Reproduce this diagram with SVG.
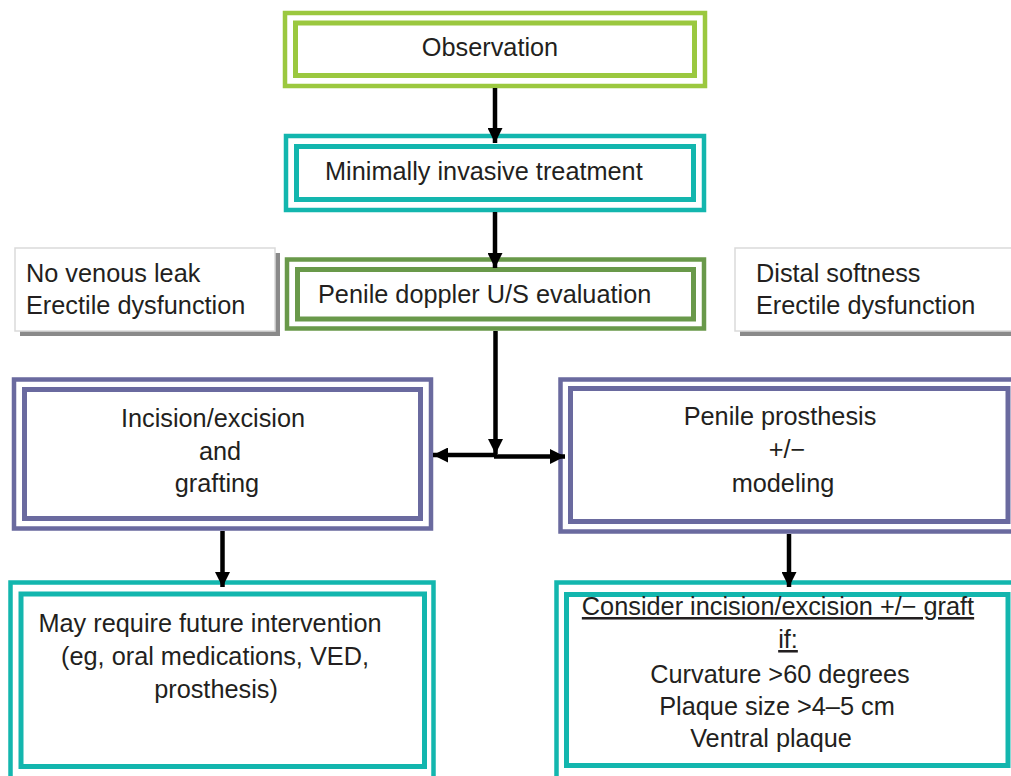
<svg xmlns="http://www.w3.org/2000/svg" width="1011" height="776" viewBox="0 0 1011 776">
<defs>
<style>
.t{font-family:"Liberation Sans",Arial,sans-serif;font-size:25.3px;fill:#231F20}
.c{text-anchor:middle}
.fr{fill:#fff}
.g1{stroke:#9BC83F;fill:none}
.tl{stroke:#13B6AE;fill:none}
.g2{stroke:#69994A;fill:none}
.sl{stroke:#6A6A9F;fill:none}
.o{stroke-width:4.5}
.i{stroke-width:5}
.ln{stroke:#000;stroke-width:4.5;fill:none}
.note{fill:#fff;stroke:#DADADA;stroke-width:1.5}
.sh{fill:#8A8A8A}
</style>
<marker id="ah" viewBox="0 0 10 10" refX="10" refY="5" markerWidth="15" markerHeight="15" markerUnits="userSpaceOnUse" orient="auto">
<path d="M0,0 L10,5 L0,10 z" fill="#000"/>
</marker>
</defs>
<rect width="1011" height="776" fill="#fff"/>

<g id="observation">
<rect class="fr" x="285" y="13" width="420" height="73"/>
<rect class="g1 o" x="285" y="13" width="420" height="73"/>
<rect class="g1 i" x="295.5" y="23" width="399" height="52.5"/>
<text class="t c" x="490" y="56">Observation</text>
</g>

<g id="minimally-invasive">
<rect class="tl o" x="286" y="136" width="418" height="74"/>
<rect class="tl i" x="296.5" y="146.5" width="397" height="53"/>
<text class="t" x="325" y="180">Minimally invasive treatment</text>
</g>

<g id="note-left">
<rect class="sh" x="20" y="253" width="260" height="83"/>
<rect class="note" x="15" y="248" width="260" height="83"/>
<text class="t" x="26" y="282">No venous leak</text>
<text class="t" x="26" y="314">Erectile dysfunction</text>
</g>

<g id="doppler">
<rect class="g2 o" x="287" y="259.5" width="417" height="69"/>
<rect class="g2 i" x="297.5" y="269.5" width="396" height="49.5"/>
<text class="t" x="318" y="303">Penile doppler U/S evaluation</text>
</g>

<g id="note-right">
<rect class="sh" x="740" y="253" width="280" height="83"/>
<rect class="note" x="735" y="248" width="285" height="83"/>
<text class="t" x="756" y="282">Distal softness</text>
<text class="t" x="756" y="314">Erectile dysfunction</text>
</g>

<g id="incision-grafting">
<rect class="sl o" x="14" y="379.5" width="417" height="149"/>
<rect class="sl i" x="24.5" y="389.5" width="396" height="129"/>
<text class="t c" x="213" y="427">Incision/excision</text>
<text class="t c" x="220" y="460">and</text>
<text class="t c" x="217" y="492">grafting</text>
</g>

<g id="prosthesis">
<rect class="sl o" x="560.5" y="379.5" width="458" height="152"/>
<rect class="sl i" x="570.5" y="388.5" width="437.5" height="133"/>
<text class="t c" x="780" y="425">Penile prosthesis</text>
<text class="t c" x="787" y="458">+/−</text>
<text class="t c" x="783" y="492">modeling</text>
</g>

<g id="future-intervention">
<rect class="tl o" x="10.5" y="582.5" width="423" height="200"/>
<rect class="tl i" x="21" y="594" width="403.5" height="172.5"/>
<text class="t c" x="210" y="632">May require future intervention</text>
<text class="t c" x="215" y="665">(eg, oral medications, VED,</text>
<text class="t c" x="216" y="698">prosthesis)</text>
</g>

<g id="consider-incision">
<rect class="tl o" x="556.5" y="582.5" width="462" height="200"/>
<rect class="tl i" x="566.5" y="594.5" width="441.5" height="171"/>
<text class="t c" x="778" y="615" text-decoration="underline">Consider incision/excision +/− graft</text>
<text class="t c" x="788" y="648" text-decoration="underline">if:</text>
<text class="t c" x="780" y="683">Curvature &gt;60 degrees</text>
<text class="t c" x="777" y="715">Plaque size &gt;4–5 cm</text>
<text class="t c" x="771" y="747">Ventral plaque</text>
</g>

<g id="connectors">
<line class="ln" x1="495" y1="88" x2="495" y2="143" marker-end="url(#ah)"/>
<line class="ln" x1="495" y1="212" x2="495" y2="268" marker-end="url(#ah)"/>
<line class="ln" x1="495.5" y1="331" x2="495.5" y2="454" marker-end="url(#ah)"/>
<line class="ln" x1="497" y1="455" x2="433" y2="455" marker-end="url(#ah)"/>
<line class="ln" x1="494" y1="456.5" x2="565" y2="456.5" marker-end="url(#ah)"/>
<line class="ln" x1="222.5" y1="531" x2="222.5" y2="587" marker-end="url(#ah)"/>
<line class="ln" x1="789" y1="534" x2="789" y2="587" marker-end="url(#ah)"/>
</g>
</svg>
